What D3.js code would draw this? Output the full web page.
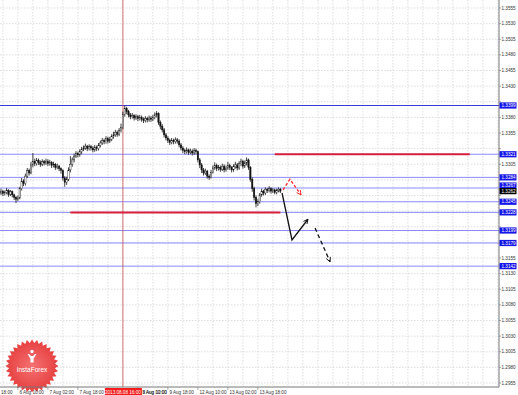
<!DOCTYPE html>
<html><head><meta charset="utf-8">
<script src="https://cdn.jsdelivr.net/npm/d3@7"></script>
<style>html,body{margin:0;padding:0;background:#fff;}svg{display:block;font-family:"Liberation Sans",Arial,sans-serif;}</style>
</head><body>
<script>
// ---- data ----
const firstOpen = 1.3259;
const close = [1.3262,1.3258,1.3260,1.3263,1.3257,1.3261,1.3256,1.3252,1.3249,1.3251,
1.3266,1.3278,1.3274,1.3286,1.3295,1.3291,1.3304,1.3309,1.3306,1.3311,
1.3308,1.3305,1.3309,1.3307,1.3310,1.3306,1.3308,1.3303,1.3305,1.3300,
1.3302,1.3298,1.3295,1.3283,1.3276,1.3281,1.3296,1.3305,1.3312,1.3318,
1.3322,1.3320,1.3325,1.3329,1.3331,1.3334,1.3330,1.3333,1.3331,1.3328,
1.3332,1.3330,1.3335,1.3339,1.3343,1.3341,1.3346,1.3342,1.3345,1.3349,
1.3352,1.3356,1.3353,1.3359,1.3364,1.3385,1.3394,1.3389,1.3384,1.3381,
1.3383,1.3379,1.3381,1.3378,1.3380,1.3377,1.3375,1.3378,1.3376,1.3379,
1.3377,1.3380,1.3384,1.3386,1.3372,1.3366,1.3360,1.3352,1.3347,1.3343,
1.3340,1.3343,1.3341,1.3344,1.3342,1.3336,1.3331,1.3327,1.3325,1.3328,
1.3324,1.3326,1.3323,1.3327,1.3325,1.3312,1.3304,1.3296,1.3291,1.3294,
1.3286,1.3284,1.3292,1.3299,1.3303,1.3298,1.3300,1.3297,1.3302,1.3296,
1.3299,1.3303,1.3300,1.3296,1.3301,1.3304,1.3299,1.3306,1.3310,1.3302,
1.3307,1.3312,1.3300,1.3281,1.3266,1.3252,1.3242,1.3245,1.3256,1.3262,
1.3259,1.3265,1.3263,1.3266,1.3262,1.3264,1.3260,1.3263,1.3265,1.3262];
const high = [1.3266,1.3264,1.3263,1.3267,1.3265,1.3264,1.3263,1.3258,1.3254,1.3255,
1.3269,1.3283,1.3281,1.3290,1.3299,1.3298,1.3309,1.3323,1.3314,1.3315,
1.3314,1.3311,1.3313,1.3312,1.3314,1.3313,1.3312,1.3310,1.3309,1.3307,
1.3306,1.3304,1.3300,1.3297,1.3286,1.3285,1.3300,1.3318,1.3316,1.3322,
1.3326,1.3325,1.3329,1.3333,1.3335,1.3338,1.3336,1.3337,1.3336,1.3334,
1.3336,1.3335,1.3339,1.3343,1.3347,1.3346,1.3350,1.3349,1.3349,1.3353,
1.3357,1.3360,1.3359,1.3363,1.3370,1.3389,1.3399,1.3397,1.3392,1.3387,
1.3387,1.3385,1.3385,1.3384,1.3384,1.3383,1.3380,1.3382,1.3381,1.3383,
1.3382,1.3384,1.3388,1.3390,1.3388,1.3375,1.3369,1.3363,1.3355,1.3350,
1.3346,1.3347,1.3346,1.3348,1.3347,1.3345,1.3339,1.3334,1.3330,1.3332,
1.3330,1.3330,1.3329,1.3331,1.3330,1.3327,1.3315,1.3307,1.3299,1.3298,
1.3296,1.3289,1.3296,1.3303,1.3308,1.3306,1.3304,1.3303,1.3306,1.3305,
1.3303,1.3309,1.3306,1.3302,1.3305,1.3309,1.3307,1.3310,1.3314,1.3312,
1.3311,1.3316,1.3314,1.3302,1.3284,1.3269,1.3255,1.3249,1.3259,1.3266,
1.3264,1.3268,1.3267,1.3270,1.3268,1.3267,1.3266,1.3266,1.3268,1.3267];
const low = [1.3256,1.3254,1.3255,1.3257,1.3253,1.3254,1.3252,1.3248,1.3243,1.3246,
1.3249,1.3263,1.3270,1.3271,1.3283,1.3287,1.3289,1.3300,1.3302,1.3303,
1.3304,1.3301,1.3302,1.3303,1.3304,1.3302,1.3303,1.3299,1.3300,1.3296,
1.3297,1.3294,1.3290,1.3279,1.3269,1.3272,1.3278,1.3292,1.3301,1.3308,
1.3315,1.3316,1.3317,1.3321,1.3326,1.3328,1.3326,1.3327,1.3327,1.3324,
1.3325,1.3326,1.3327,1.3332,1.3336,1.3337,1.3338,1.3338,1.3339,1.3342,
1.3346,1.3349,1.3349,1.3350,1.3356,1.3361,1.3381,1.3385,1.3380,1.3377,
1.3378,1.3375,1.3376,1.3374,1.3375,1.3373,1.3371,1.3372,1.3372,1.3373,
1.3373,1.3374,1.3377,1.3380,1.3368,1.3361,1.3356,1.3348,1.3343,1.3339,
1.3336,1.3337,1.3337,1.3338,1.3338,1.3332,1.3327,1.3323,1.3321,1.3322,
1.3320,1.3321,1.3319,1.3320,1.3321,1.3308,1.3299,1.3291,1.3287,1.3288,
1.3282,1.3280,1.3282,1.3290,1.3296,1.3294,1.3295,1.3293,1.3294,1.3292,
1.3293,1.3296,1.3296,1.3292,1.3293,1.3298,1.3295,1.3296,1.3302,1.3298,
1.3299,1.3303,1.3296,1.3277,1.3261,1.3247,1.3236,1.3238,1.3242,1.3253,
1.3255,1.3256,1.3259,1.3260,1.3258,1.3259,1.3257,1.3257,1.3260,1.3259];

const priceTicks = [1.3555,1.3530,1.3505,1.3480,1.3455,1.3430,1.3405,1.3380,1.3355,1.3330,1.3305,1.3280,1.3255,1.3230,1.3205,1.3180,1.3155,1.3130,1.3105,1.3080,1.3055,1.3030,1.3005,1.2980,1.2955];
const timeTickIdx = [-7,9,25,41,57,73,89,105,121,137];
const timeTickLab = ["18:00","6 Aug 10:00","7 Aug 02:00","7 Aug 18:00","8 Aug 10:00","9 Aug 02:00","9 Aug 18:00","12 Aug 10:00","13 Aug 02:00","13 Aug 18:00"];
const levels = [1.3399,1.3321,1.3284,1.3267,1.3245,1.3228,1.3199,1.3179,1.3142];
const currentPrice = 1.3262;
const crossIdx = 65, crossLabel = "2013.08.08 16:00";
const redSegs = [{from:146,to:250,price:1.3321},{from:37,to:149,price:1.3228}];
const redArrow = [[150.4,1.3264],[154.1,1.3281],[160,1.3256]];
const blackArrow = [[149.9,1.3259],[155.2,1.3184],[163.7,1.3217]];
const blackDashArrow = [[167.5,1.3203],[175.5,1.3149]];

// ---- chart ----
const W=518,H=395, plotR=499, plotB=387;
const svg=d3.select("body").append("svg").attr("width",W).attr("height",H);
const x=d3.scaleLinear().domain([0,265.6]).range([1,plotR]);
const y=d3.scaleLinear().domain([1.2955,1.3555]).range([383,8]);

const defs=svg.append("defs");
defs.append("clipPath").attr("id","plot").append("rect").attr("x",0).attr("y",0).attr("width",plotR).attr("height",plotB);
function marker(id,col){
  defs.append("marker").attr("id",id).attr("viewBox","0 0 10 10").attr("refX",9).attr("refY",5)
   .attr("markerWidth",5.5).attr("markerHeight",5.5).attr("orient","auto").attr("markerUnits","userSpaceOnUse")
   .append("path").attr("d","M1,1L9,5L1,9").attr("fill","none").attr("stroke",col).attr("stroke-width",1.6);
}
marker("mr","#ff2a2a"); marker("mb","#111");
const grad=defs.append("radialGradient").attr("id","lg");
grad.append("stop").attr("offset","0%").attr("stop-color","#f46a6a");
grad.append("stop").attr("offset","100%").attr("stop-color","#e53535");

const g=svg.append("g").attr("clip-path","url(#plot)");
// grid
const gridIdx=d3.range(-7,266,8);
g.selectAll(".vg").data(gridIdx).join("line").attr("x1",d=>x(d)).attr("x2",d=>x(d)).attr("y1",0).attr("y2",plotB)
 .attr("stroke","#c8c8c8").attr("stroke-width",0.6).attr("stroke-dasharray","1.5,1.5");
g.selectAll(".hg").data(priceTicks).join("line").attr("x1",0).attr("x2",plotR).attr("y1",d=>y(d)).attr("y2",d=>y(d))
 .attr("stroke","#c8c8c8").attr("stroke-width",0.6).attr("stroke-dasharray","1.5,1.5");

// levels
g.selectAll(".lv").data(levels).join("line").attr("x1",0).attr("x2",plotR).attr("y1",d=>y(d)).attr("y2",d=>y(d))
 .attr("stroke",(d,i)=>i===0?"#3a3ad6":"#8a8aff").attr("stroke-width",1);

// crosshair
g.append("line").attr("x1",x(crossIdx)).attr("x2",x(crossIdx)).attr("y1",0).attr("y2",plotB).attr("stroke","#c85050").attr("stroke-width",0.8);

// red lines
g.selectAll(".rs").data(redSegs).join("line").attr("x1",d=>x(d.from)).attr("x2",d=>x(d.to)).attr("y1",d=>y(d.price)).attr("y2",d=>y(d.price))
 .attr("stroke","#d8203c").attr("stroke-width",2);

// candles
const bars=close.map((c,i)=>({i,o:i?close[i-1]:firstOpen,c,h:high[i],l:low[i]}));
g.selectAll(".wk").data(bars).join("line").attr("x1",d=>x(d.i)).attr("x2",d=>x(d.i)).attr("y1",d=>y(d.h)).attr("y2",d=>y(d.l))
 .attr("stroke","#111").attr("stroke-width",0.8);
g.selectAll(".bd").data(bars).join("rect").attr("x",d=>x(d.i)-0.7).attr("width",1.4)
 .attr("y",d=>y(Math.max(d.o,d.c))).attr("height",d=>Math.max(0.6,Math.abs(y(d.o)-y(d.c))))
 .attr("fill",d=>d.c>=d.o?"#fff":"#111").attr("stroke","#111").attr("stroke-width",0.4);

// arrows
const line=d3.line().x(d=>x(d[0])).y(d=>y(d[1]));
g.append("path").attr("d",line(redArrow)).attr("fill","none").attr("stroke","#ff2a2a").attr("stroke-width",1.3).attr("stroke-dasharray","3,2").attr("marker-end","url(#mr)");
g.append("path").attr("d",line(blackArrow)).attr("fill","none").attr("stroke","#111").attr("stroke-width",1.3).attr("marker-end","url(#mb)");
g.append("path").attr("d",line(blackDashArrow)).attr("fill","none").attr("stroke","#111").attr("stroke-width",1.3).attr("stroke-dasharray","4,3").attr("marker-end","url(#mb)");

// logo
const lc=[32,366], n=32;
const pts=d3.range(n*2).map(k=>{const r=k%2?23:26.5;const a=k*Math.PI/n;return [lc[0]+r*Math.sin(a),lc[1]-r*Math.cos(a)];});
svg.append("polygon").attr("points",pts.map(p=>p.join(",")).join(" ")).attr("fill","url(#lg)").attr("opacity",0.95);
const ic=svg.append("g").attr("fill","#fff");
ic.append("circle").attr("cx",lc[0]).attr("cy",351.5).attr("r",1.7);
ic.append("path").attr("d",`M${lc[0]-4.5},354 L${lc[0]-2.8},354 L${lc[0]-1},356 L${lc[0]+1},356 L${lc[0]+2.8},354 L${lc[0]+4.5},354 L${lc[0]+1.6},358.5 L${lc[0]+1.6},362.5 L${lc[0]-1.6},362.5 L${lc[0]-1.6},358.5 Z`);
svg.append("text").attr("x",lc[0]).attr("y",372).attr("text-anchor","middle").attr("fill","#fff").attr("font-size",6.5).text("InstaForex");

// frame
svg.append("line").attr("x1",plotR).attr("x2",plotR).attr("y1",0).attr("y2",plotB).attr("stroke","#777").attr("stroke-width",1);
svg.append("line").attr("x1",0).attr("x2",plotR).attr("y1",plotB).attr("y2",plotB).attr("stroke","#777").attr("stroke-width",1);

// right axis (tick labels hidden where a level box covers them)
const boxes=levels.concat([currentPrice]);
const visTicks=priceTicks.filter(t=>boxes.every(b=>Math.abs(y(b)-y(t))>6.8));
const ra=svg.append("g");
ra.selectAll("line").data(priceTicks).join("line").attr("x1",plotR).attr("x2",plotR+2).attr("y1",d=>y(d)).attr("y2",d=>y(d)).attr("stroke","#777").attr("stroke-width",0.6);
ra.selectAll("text").data(visTicks).join("text").attr("x",plotR+2.5).attr("y",d=>y(d)+1.5).attr("font-size",4.6).attr("fill","#333").text(d=>d.toFixed(4));
// level boxes, nudged apart from the current-price box so texts stay legible
const cy=y(currentPrice);
const boxData=levels.map(p=>{let yy=y(p);const dd=yy-cy;if(Math.abs(dd)<5.6)yy=cy+(dd<0?-5.6:5.6);return {p,yy,c:"#1515e8"};})
  .concat([{p:currentPrice,yy:cy,c:"#000"}]);
const lb=svg.append("g").selectAll("g").data(boxData).join("g");
lb.append("rect").attr("x",plotR+0.5).attr("y",d=>d.yy-3.1).attr("width",17).attr("height",6.2).attr("fill",d=>d.c);
lb.append("text").attr("x",plotR+2.5).attr("y",d=>d.yy+1.6).attr("font-size",4.6).attr("fill","#fff").text(d=>d.p.toFixed(4));

// bottom axis (label under the crosshair box is hidden, next one starts after it)
const crossX=x(crossIdx);
const visTime=timeTickIdx.map((d,i)=>({d,lab:timeTickLab[i]})).filter(t=>Math.abs(x(t.d)-crossX)>10);
const ba=svg.append("g");
ba.selectAll("line").data(timeTickIdx).join("line").attr("x1",d=>x(d)).attr("x2",d=>x(d)).attr("y1",plotB).attr("y2",plotB+3).attr("stroke","#777").attr("stroke-width",0.6);
ba.selectAll("text").data(visTime).join("text").attr("x",t=>Math.max(1,x(t.d)+1.5)).attr("y",393.5).attr("font-size",4.6).attr("fill","#333")
 .attr("dx",t=>Math.abs(x(t.d)-crossX)<22?(crossX+19.5)-(x(t.d)+1.5):0).text(t=>t.lab);
svg.append("rect").attr("x",crossX-18).attr("y",plotB+1).attr("width",37).attr("height",7).attr("fill","#f41c1c");
svg.append("text").attr("x",crossX).attr("y",393.5).attr("text-anchor","middle").attr("font-size",4.6).attr("fill","#fff").text(crossLabel);
</script>
</body></html>
